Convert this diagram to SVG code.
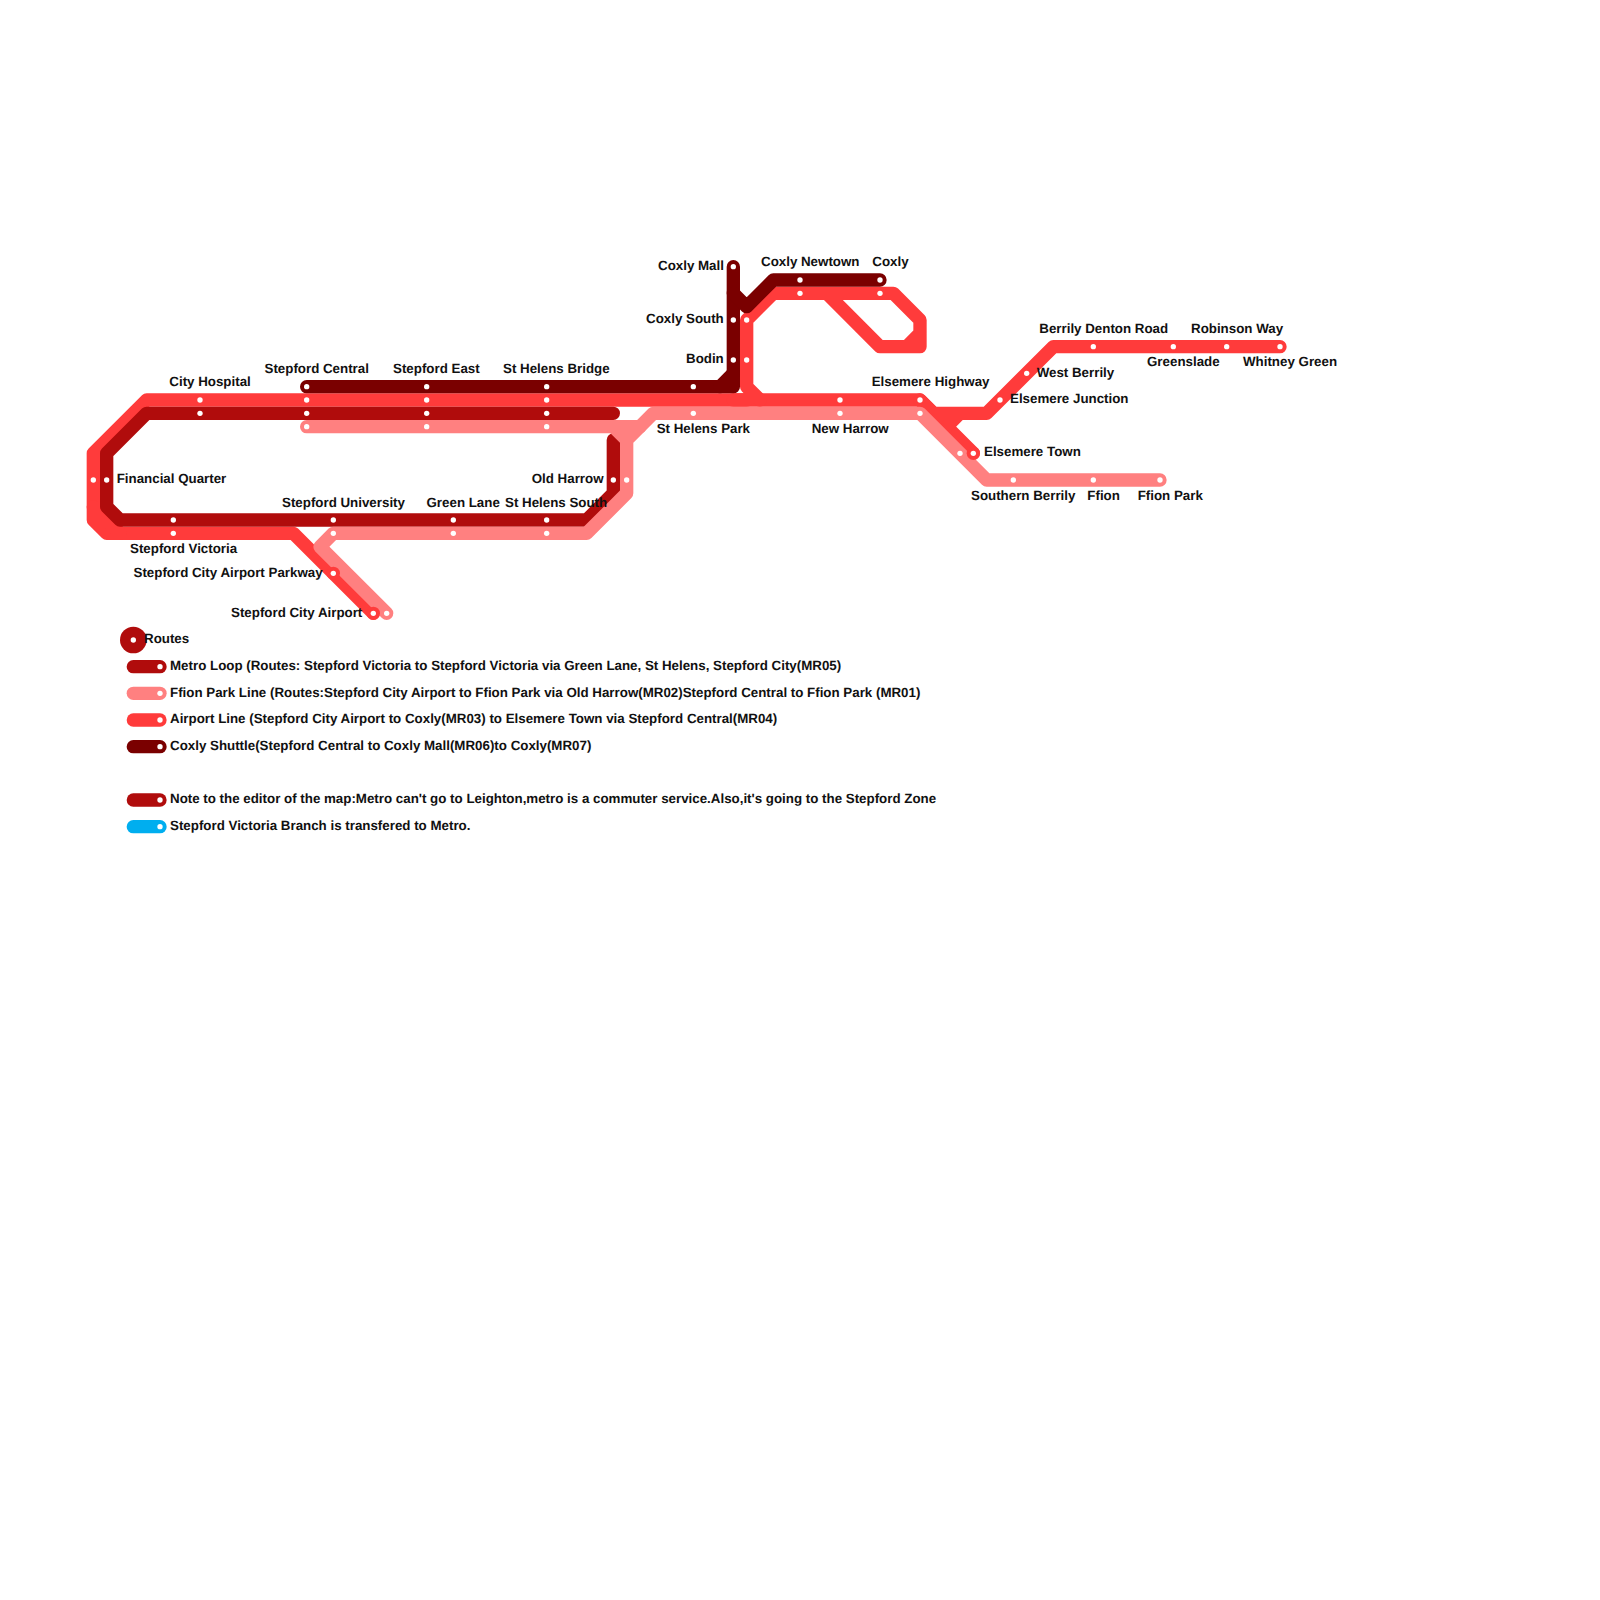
<svg xmlns="http://www.w3.org/2000/svg" width="1600" height="1600" viewBox="0 0 1600 1600">
<style>
.l{fill:none;stroke-width:13.33;stroke-linecap:round;stroke-linejoin:round}
.red{stroke:#ff3b3b}.pink{stroke:#ff8080}.metro{stroke:#b00c0c}.shuttle{stroke:#7a0000}.blue{stroke:#00aeef}
.d{fill:#fff}
.ring{fill:#ff3b3b}
text{font-family:"Liberation Sans",Arial,sans-serif;font-weight:700;font-size:13.33px;fill:#111;text-rendering:geometricPrecision}
</style>
<defs>
<circle id="s" r="2.67" class="d"/>
</defs>
<rect width="1600" height="1600" fill="#fff"/>
<g id="connectors">
<path class="l red" d="M373.33 613.33L293.33 533.33H106.67L93.33 520V453.33L146.67 400H920L973.33 453.33"/>
<path class="l red" d="M93.33 506.67L120 533.33"/>
<path class="l red" d="M746.67 400L733.33 400M760 400L746.67 386.67V320L773.33 293.33H893.33L920 320V346.67H880L826.67 293.33M906.67 346.67L920 333.33"/>
<path class="l red" d="M920 400L933.33 413.33H986.67L1053.33 346.67H1280M960 413.33L946.67 426.67"/>
<path class="l metro" d="M613.33 413.33H146.67L106.67 453.33V506.67L120 520H586.67L613.33 493.33V440"/>
<path class="l pink" d="M386.67 613.33L320 546.67L333.33 533.33H586.67L626.67 493.33V440L653.33 413.33H920L986.67 480H1160"/>
<path class="l pink" d="M306.67 426.67H640M613.33 426.67L626.67 440"/>
<path class="l shuttle" d="M306.67 386.67H733.33V266.67"/>
<path class="l shuttle" d="M733.33 293.33L746.67 306.67L773.33 280H880"/>
<path class="l shuttle" d="M720 386.67L733.33 373.33"/>
</g>
<g id="city-hospital"><use href="#s" x="200" y="400"/><use href="#s" x="200" y="413.33"/><text x="169.3" y="386">City Hospital</text></g>
<g id="stepford-central"><use href="#s" x="306.67" y="386.67"/><use href="#s" x="306.67" y="400"/><use href="#s" x="306.67" y="413.33"/><use href="#s" x="306.67" y="426.67"/><text x="264.5" y="373">Stepford Central</text></g>
<g id="stepford-east"><use href="#s" x="426.67" y="386.67"/><use href="#s" x="426.67" y="400"/><use href="#s" x="426.67" y="413.33"/><use href="#s" x="426.67" y="426.67"/><text x="393" y="373">Stepford East</text></g>
<g id="st-helens-bridge"><use href="#s" x="546.67" y="386.67"/><use href="#s" x="546.67" y="400"/><use href="#s" x="546.67" y="413.33"/><use href="#s" x="546.67" y="426.67"/><text x="503" y="373">St Helens Bridge</text></g>
<g id="financial-quarter"><use href="#s" x="93.33" y="480"/><use href="#s" x="106.67" y="480"/><text x="116.7" y="483">Financial Quarter</text></g>
<g id="stepford-victoria"><use href="#s" x="173.33" y="520"/><use href="#s" x="173.33" y="533.33"/><text x="130" y="553">Stepford Victoria</text></g>
<g id="stepford-university"><use href="#s" x="333.33" y="520"/><use href="#s" x="333.33" y="533.33"/><text x="282" y="506.5">Stepford University</text></g>
<g id="green-lane"><use href="#s" x="453.33" y="520"/><use href="#s" x="453.33" y="533.33"/><text x="426.5" y="506.5">Green Lane</text></g>
<g id="st-helens-south"><use href="#s" x="546.67" y="520"/><use href="#s" x="546.67" y="533.33"/><text x="505" y="506.5">St Helens South</text></g>
<g id="old-harrow"><use href="#s" x="613.33" y="480"/><use href="#s" x="626.67" y="480"/><text x="531.7" y="483">Old Harrow</text></g>
<g id="parkway"><circle class="ring" cx="333.33" cy="573.33" r="6.67"/><use href="#s" x="333.33" y="573.33"/><text x="133.5" y="576.5">Stepford City Airport Parkway</text></g>
<g id="airport"><circle class="ring" cx="373.33" cy="613.33" r="6.67"/><use href="#s" x="373.33" y="613.33"/><use href="#s" x="386.67" y="613.33"/><text x="231" y="616.5">Stepford City Airport</text></g>
<g id="st-helens-park"><use href="#s" x="693.33" y="386.67"/><use href="#s" x="693.33" y="413.33"/><text x="656.7" y="433">St Helens Park</text></g>
<g id="new-harrow"><use href="#s" x="840" y="400"/><use href="#s" x="840" y="413.33"/><text x="811.7" y="433">New Harrow</text></g>
<g id="elsemere-highway"><use href="#s" x="920" y="400"/><use href="#s" x="920" y="413.33"/><text x="871.7" y="386">Elsemere Highway</text></g>
<g id="elsemere-town"><circle class="ring" cx="973.33" cy="453.33" r="6.67"/><use href="#s" x="960" y="453.33"/><use href="#s" x="973.33" y="453.33"/><text x="984" y="456">Elsemere Town</text></g>
<g id="coxly-mall"><use href="#s" x="733.33" y="266.67"/><text x="658" y="270">Coxly Mall</text></g>
<g id="coxly-south"><use href="#s" x="733.33" y="320"/><use href="#s" x="746.67" y="320"/><text x="646" y="323">Coxly South</text></g>
<g id="bodin"><use href="#s" x="733.33" y="360"/><use href="#s" x="746.67" y="360"/><text x="686" y="363">Bodin</text></g>
<g id="coxly-newtown"><use href="#s" x="800" y="280"/><use href="#s" x="800" y="293.33"/><text x="761" y="266">Coxly Newtown</text></g>
<g id="coxly"><use href="#s" x="880" y="280"/><use href="#s" x="880" y="293.33"/><text x="872.3" y="266">Coxly</text></g>
<g id="elsemere-junction"><use href="#s" x="1000" y="400"/><text x="1010" y="403">Elsemere Junction</text></g>
<g id="west-berrily"><use href="#s" x="1026.67" y="373.33"/><text x="1036.7" y="376.5">West Berrily</text></g>
<g id="berrily-denton-road"><use href="#s" x="1093.33" y="346.67"/><text x="1039.3" y="333">Berrily Denton Road</text></g>
<g id="greenslade"><use href="#s" x="1173.33" y="346.67"/><text x="1147" y="366">Greenslade</text></g>
<g id="robinson-way"><use href="#s" x="1226.67" y="346.67"/><text x="1191" y="333">Robinson Way</text></g>
<g id="whitney-green"><use href="#s" x="1280" y="346.67"/><text x="1243" y="366">Whitney Green</text></g>
<g id="southern-berrily"><use href="#s" x="1013.33" y="480"/><text x="971" y="500">Southern Berrily</text></g>
<g id="ffion"><use href="#s" x="1093.33" y="480"/><text x="1087.3" y="500">Ffion</text></g>
<g id="ffion-park"><use href="#s" x="1160" y="480"/><text x="1137.7" y="500">Ffion Park</text></g>
<g id="legend">
<circle cx="133.33" cy="640" r="13.33" fill="#b00c0c"/><use href="#s" x="133.33" y="640"/><text x="144" y="643.3">Routes</text>
<path class="l metro" d="M133.33 666.67H160"/><use href="#s" x="160" y="666.67"/><text x="170" y="670">Metro Loop (Routes: Stepford Victoria to Stepford Victoria via Green Lane, St Helens, Stepford City(MR05)</text>
<path class="l pink" d="M133.33 693.33H160"/><use href="#s" x="160" y="693.33"/><text x="170" y="696.7">Ffion Park Line (Routes:Stepford City Airport to Ffion Park via Old Harrow(MR02)Stepford Central to Ffion Park (MR01)</text>
<path class="l red" d="M133.33 720H160"/><use href="#s" x="160" y="720"/><text x="170" y="723.3">Airport Line (Stepford City Airport to Coxly(MR03) to Elsemere Town via Stepford Central(MR04)</text>
<path class="l shuttle" d="M133.33 746.67H160"/><use href="#s" x="160" y="746.67"/><text x="170" y="750">Coxly Shuttle(Stepford Central to Coxly Mall(MR06)to Coxly(MR07)</text>
<path class="l metro" d="M133.33 800H160"/><use href="#s" x="160" y="800"/><text x="170" y="803.3">Note to the editor of the map:Metro can't go to Leighton,metro is a commuter service.Also,it's going to the Stepford Zone</text>
<path class="l blue" d="M133.33 826.67H160"/><use href="#s" x="160" y="826.67"/><text x="170" y="830">Stepford Victoria Branch is transfered to Metro.</text>
</g>
</svg>
